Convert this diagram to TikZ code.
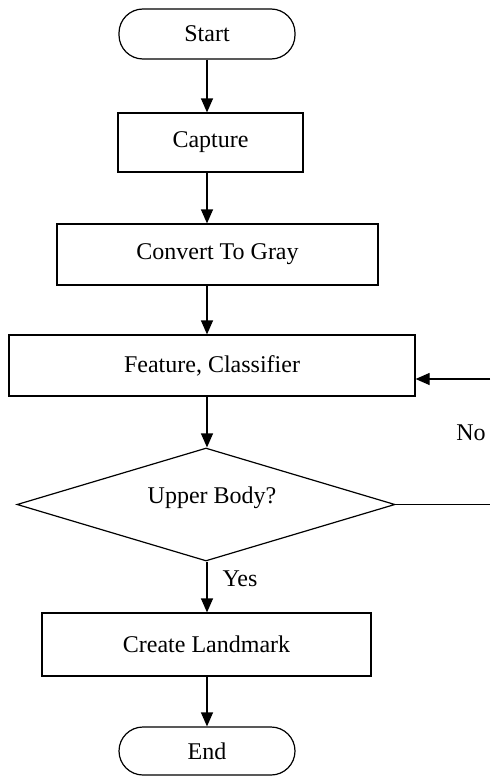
\documentclass[tikz,border=0pt]{standalone}
\usepackage{fontspec}
\setmainfont{Liberation Serif}
\usetikzlibrary{shapes.geometric,arrows.meta}
\begin{document}
\begin{tikzpicture}[x=1pt,y=-1pt,
  every node/.style={font=\fontsize{24}{28}\selectfont},
  box/.style={draw,line width=1.2pt,rectangle,inner sep=0pt},
  term/.style={box,rounded corners=24pt},
  decision/.style={draw,line width=1.2pt,diamond,inner sep=0pt},
  flow/.style={line width=1.2pt,-{Triangle[length=14pt,width=12pt]}},
  plain/.style={line width=1.2pt}]
\useasboundingbox (0,0) rectangle (490,776);
\node[term,minimum width=176pt,minimum height=50pt] (start) at (207,34) {Start};
\node[box,minimum width=185pt,minimum height=59pt] (capture) at (210.5,142.5) {Capture};
\node[box,minimum width=321pt,minimum height=61pt] (convert) at (217.5,254.5) {Convert To Gray};
\node[box,minimum width=406pt,minimum height=61pt] (feature) at (212,365.5) {Feature, Classifier};
\node[decision,minimum width=378pt,minimum height=113pt,
  label={[xshift=6pt,yshift=7pt]center:Upper Body?}] (dec) at (206,504.5) {};
\node[box,minimum width=329pt,minimum height=63pt] (create) at (206.5,644.5) {Create Landmark};
\node[term,minimum width=176pt,minimum height=48pt] (end) at (207,751) {End};
\node (no) at (471,433) {No};
\node (yes) at (240,579) {Yes};
\coordinate (r1) at (490,504.5);
\coordinate (r2) at (490,379);
\draw[flow] (start.south) -- (start.south |- capture.north);
\draw[flow] (capture.south -| start.south) -- (start.south |- convert.north);
\draw[flow] (convert.south -| start.south) -- (start.south |- feature.north);
\draw[flow] (feature.south -| start.south) -- (dec.north -| start.south);
\draw[flow] (dec.south -| start.south) -- (start.south |- create.north);
\draw[flow] (create.south -| start.south) -- (start.south |- end.north);
\draw[plain] (dec.east) -- (r1);
\draw[flow] (r2) -- (r2 -| feature.east);
\end{tikzpicture}
\end{document}
